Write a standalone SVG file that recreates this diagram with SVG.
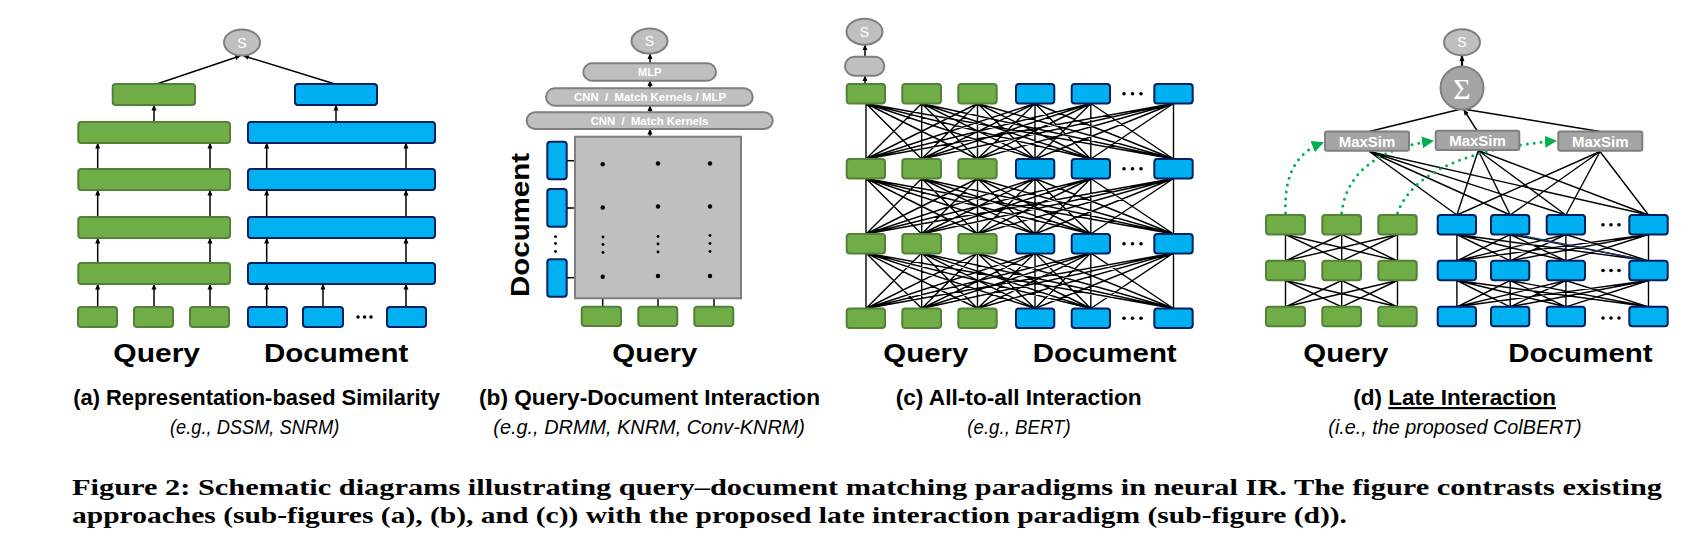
<svg xmlns="http://www.w3.org/2000/svg" width="1690" height="554" viewBox="0 0 1690 554">
<defs>
<style>
.g{fill:#70ad47;stroke:#538135;stroke-width:2}
.b{fill:#00b0f0;stroke:#002060;stroke-width:2}
.gr{fill:#bfbfbf;stroke:#7f7f7f;stroke-width:2}
.dk{fill:#a5a5a5;stroke:#7f7f7f;stroke-width:2}
.ln{stroke:#000;stroke-width:1.5;fill:none}
.ar{stroke:#000;stroke-width:1.5;fill:none;marker-end:url(#ah)}
.mesh{stroke:#000;stroke-width:1.4;fill:none}
.dot{fill:#000}
.lab{font-family:"Liberation Sans Narrow","Liberation Sans",Arial,sans-serif;font-weight:bold;font-size:26px;fill:#000}
.ttl{font-family:"Liberation Sans Narrow","Liberation Sans",Arial,sans-serif;font-weight:bold;font-size:22px;fill:#000}
.it{font-family:"Liberation Sans Narrow","Liberation Sans",Arial,sans-serif;font-style:italic;font-size:21px;fill:#000}
.wt{font-family:"Liberation Sans",Arial,sans-serif;font-weight:bold;fill:#fff}
.s{font-family:"Liberation Sans",Arial,sans-serif;font-size:14px;fill:#fff;text-anchor:middle}
.cap{font-family:"Liberation Serif","Times New Roman",serif;font-weight:bold;font-size:23px;fill:#000}
.gd{stroke:#00b050;stroke-width:3;fill:none;stroke-dasharray:0 7;stroke-linecap:round;marker-end:url(#gah)}
</style>
<marker id="ah" markerUnits="userSpaceOnUse" markerWidth="6" markerHeight="6" refX="5" refY="3" orient="auto">
<path d="M0,0.5 L6,3 L0,5.5 z" fill="#000"/>
</marker>
<marker id="gah" markerUnits="userSpaceOnUse" markerWidth="14" markerHeight="12" refX="10" refY="6" orient="auto">
<path d="M0,0 L12,6 L0,12 z" fill="#00b050"/>
</marker>
<path id="cmesh" class="mesh" d="M866 55.5L866 0M866 55.5L921.7 0M866 55.5L977.5 0M866 55.5L1035 0M866 55.5L1090.8 0M866 55.5L1173.5 0M921.7 55.5L866 0M921.7 55.5L921.7 0M921.7 55.5L977.5 0M921.7 55.5L1035 0M921.7 55.5L1090.8 0M921.7 55.5L1173.5 0M977.5 55.5L866 0M977.5 55.5L921.7 0M977.5 55.5L977.5 0M977.5 55.5L1035 0M977.5 55.5L1090.8 0M977.5 55.5L1173.5 0M1035 55.5L866 0M1035 55.5L921.7 0M1035 55.5L977.5 0M1035 55.5L1035 0M1035 55.5L1090.8 0M1035 55.5L1173.5 0M1090.8 55.5L866 0M1090.8 55.5L921.7 0M1090.8 55.5L977.5 0M1090.8 55.5L1035 0M1090.8 55.5L1090.8 0M1090.8 55.5L1173.5 0M1173.5 55.5L866 0M1173.5 55.5L921.7 0M1173.5 55.5L977.5 0M1173.5 55.5L1035 0M1173.5 55.5L1090.8 0M1173.5 55.5L1173.5 0"/>
<path id="gmesh" class="mesh" d="M1285.5 26.3L1285.5 0M1285.5 26.3L1341.7 0M1285.5 26.3L1397.5 0M1341.7 26.3L1285.5 0M1341.7 26.3L1341.7 0M1341.7 26.3L1397.5 0M1397.5 26.3L1285.5 0M1397.5 26.3L1341.7 0M1397.5 26.3L1397.5 0"/>
<path id="bmesh" class="mesh" d="M1456.9 26.3L1456.9 0M1456.9 26.3L1510.2 0M1456.9 26.3L1565.9 0M1456.9 26.3L1648.5 0M1510.2 26.3L1456.9 0M1510.2 26.3L1510.2 0M1510.2 26.3L1565.9 0M1510.2 26.3L1648.5 0M1565.9 26.3L1456.9 0M1565.9 26.3L1510.2 0M1565.9 26.3L1565.9 0M1565.9 26.3L1648.5 0M1648.5 26.3L1456.9 0M1648.5 26.3L1510.2 0M1648.5 26.3L1565.9 0M1648.5 26.3L1648.5 0"/>
</defs>
<rect width="1690" height="554" fill="#fff"/>

<!-- ===== Connectors ===== -->
<g id="connectors">
 <!-- panel a -->
 <line class="ar" x1="156.7" y1="84" x2="240" y2="56"/>
 <line class="ar" x1="335" y1="84" x2="244" y2="56"/>
 <line class="ar" x1="154" y1="122" x2="154" y2="105.5"/>
 <line class="ar" x1="336" y1="122" x2="336" y2="105.5"/>
 <line class="ar" x1="97.7" y1="169" x2="97.7" y2="143.5"/>
 <line class="ar" x1="210" y1="169" x2="210" y2="143.5"/>
 <line class="ar" x1="97.7" y1="217" x2="97.7" y2="190.5"/>
 <line class="ar" x1="210" y1="217" x2="210" y2="190.5"/>
 <line class="ar" x1="97.7" y1="263" x2="97.7" y2="238.5"/>
 <line class="ar" x1="210" y1="263" x2="210" y2="238.5"/>
 <line class="ar" x1="97.7" y1="307" x2="97.7" y2="284.5"/>
 <line class="ar" x1="154" y1="307" x2="154" y2="284.5"/>
 <line class="ar" x1="210" y1="307" x2="210" y2="284.5"/>
 <line class="ar" x1="266.7" y1="169" x2="266.7" y2="143.5"/>
 <line class="ar" x1="406" y1="169" x2="406" y2="143.5"/>
 <line class="ar" x1="266.7" y1="217" x2="266.7" y2="190.5"/>
 <line class="ar" x1="406" y1="217" x2="406" y2="190.5"/>
 <line class="ar" x1="266.7" y1="263" x2="266.7" y2="238.5"/>
 <line class="ar" x1="406" y1="263" x2="406" y2="238.5"/>
 <line class="ar" x1="266.7" y1="307" x2="266.7" y2="284.5"/>
 <line class="ar" x1="323" y1="307" x2="323" y2="284.5"/>
 <line class="ar" x1="406" y1="307" x2="406" y2="284.5"/>
 <!-- panel b -->
 <line class="ar" x1="650" y1="63.3" x2="650" y2="54"/>
 <line class="ar" x1="650" y1="88.3" x2="650" y2="81"/>
 <line class="ar" x1="650" y1="112.3" x2="650" y2="106"/>
 <line class="ar" x1="650" y1="136.7" x2="650" y2="129.5"/>
 <line class="ar" x1="567" y1="160.7" x2="583" y2="160.7"/>
 <line class="ar" x1="567" y1="208" x2="583" y2="208"/>
 <line class="ar" x1="567" y1="277.7" x2="583" y2="277.7"/>
 <line class="ar" x1="602.7" y1="306.5" x2="602.7" y2="292"/>
 <line class="ar" x1="658" y1="306.5" x2="658" y2="292"/>
 <line class="ar" x1="714" y1="306.5" x2="714" y2="292"/>
 <!-- panel c -->
 <line class="ar" x1="865" y1="56.7" x2="865" y2="45.2"/>
 <line class="ar" x1="865" y1="84" x2="865" y2="76.2"/>
 <use href="#cmesh" transform="translate(0,103.5)"/>
 <use href="#cmesh" transform="translate(0,178.5)"/>
 <use href="#cmesh" transform="translate(0,253)"/>
 <!-- panel d -->
 <use href="#gmesh" transform="translate(0,234.5)"/>
 <use href="#gmesh" transform="translate(0,280.5)"/>
 <use href="#bmesh" transform="translate(0,234.5)"/>
 <use href="#bmesh" transform="translate(0,280.5)"/>
 <line x1="1516.7" y1="234.5" x2="1646.7" y2="260.8" stroke="#1f3864" stroke-width="1.4"/>
 <path class="mesh" d="M1369.3 151.5L1456.9 215M1369.3 151.5L1510.2 215M1369.3 151.5L1565.9 215M1369.3 151.5L1648.5 215M1478.3 150.5L1456.9 215M1478.3 150.5L1510.2 215M1478.3 150.5L1565.9 215M1478.3 150.5L1648.5 215M1600 151.5L1456.9 215M1600 151.5L1510.2 215M1600 151.5L1565.9 215M1600 151.5L1648.5 215"/>
 <line class="ln" x1="1369.3" y1="131.5" x2="1459" y2="109.5"/>
 <line class="ar" x1="1477" y1="130.7" x2="1464" y2="110"/>
 <line class="ln" x1="1600" y1="131.5" x2="1466" y2="109.5"/>
 <line x1="1462" y1="66.5" x2="1462" y2="56" stroke="#000" stroke-width="2.2" marker-end="url(#ah)"/>
 <path class="gd" d="M1285.5 213 C1284 175 1296 153 1322 143"/>
 <path class="gd" d="M1341.7 213 C1346 172 1380 148 1432 141"/>
 <path class="gd" d="M1397.5 213 C1412 172 1470 148 1555 141"/>
</g>

<!-- ===== Panel (a) ===== -->
<g id="panel-a">
 <g id="a-score"><ellipse class="gr" cx="242" cy="42.5" rx="18" ry="13"/><text class="s" x="242" y="47.5">S</text></g>
 <g id="a-q-top"><rect class="g" x="112.7" y="84" width="82.3" height="21" rx="3"/></g>
 <g id="a-d-top"><rect class="b" x="295" y="84" width="82" height="21" rx="3"/></g>
 <g id="a-q-layers">
  <rect class="g" x="78.3" y="122" width="151.7" height="21" rx="3"/>
  <rect class="g" x="78.3" y="169" width="151.7" height="21" rx="3"/>
  <rect class="g" x="78.3" y="217" width="151.7" height="21" rx="3"/>
  <rect class="g" x="78.3" y="263" width="151.7" height="21" rx="3"/>
 </g>
 <g id="a-d-layers">
  <rect class="b" x="248" y="122" width="187" height="21" rx="3"/>
  <rect class="b" x="248" y="169" width="187" height="21" rx="3"/>
  <rect class="b" x="248" y="217" width="187" height="21" rx="3"/>
  <rect class="b" x="248" y="263" width="187" height="21" rx="3"/>
 </g>
 <g id="a-q-tokens">
  <rect class="g" x="78" y="307" width="39" height="20" rx="3"/>
  <rect class="g" x="134" y="307" width="39" height="20" rx="3"/>
  <rect class="g" x="190" y="307" width="39" height="20" rx="3"/>
 </g>
 <g id="a-d-tokens">
  <rect class="b" x="248" y="307" width="39" height="20" rx="3"/>
  <rect class="b" x="303" y="307" width="40" height="20" rx="3"/>
  <circle class="dot" cx="358" cy="317" r="1.8"/><circle class="dot" cx="364.5" cy="317" r="1.8"/><circle class="dot" cx="371" cy="317" r="1.8"/>
  <rect class="b" x="387" y="307" width="39" height="20" rx="3"/>
 </g>
 <text class="lab" x="113.3" y="362" textLength="86.7" lengthAdjust="spacingAndGlyphs">Query</text>
 <text class="lab" x="264" y="362" textLength="144.3" lengthAdjust="spacingAndGlyphs">Document</text>
 <text class="ttl" x="73.3" y="405" textLength="366.7" lengthAdjust="spacingAndGlyphs">(a) Representation-based Similarity</text>
 <text class="it" x="170" y="434" textLength="169.3" lengthAdjust="spacingAndGlyphs">(e.g., DSSM, SNRM)</text>
</g>

<!-- ===== Panel (b) ===== -->
<g id="panel-b">
 <g id="b-score"><ellipse class="gr" cx="649.5" cy="41" rx="18" ry="12.5"/><text class="s" x="649.5" y="46">S</text></g>
 <g id="b-mlp"><rect class="gr" x="583.3" y="63.3" width="132.7" height="17.4" rx="8.7"/><text class="wt" x="649.7" y="76" font-size="11" text-anchor="middle" textLength="23.3" lengthAdjust="spacingAndGlyphs">MLP</text></g>
 <g id="b-l2"><rect class="gr" x="546" y="88.3" width="206.7" height="17.4" rx="8.7"/><text class="wt" x="574" y="101" font-size="11" textLength="152" lengthAdjust="spacingAndGlyphs" xml:space="preserve">CNN  /  Match Kernels / MLP</text></g>
 <g id="b-l1"><rect class="gr" x="526.7" y="112.3" width="246" height="16.7" rx="8.3"/><text class="wt" x="590.7" y="124.7" font-size="11" textLength="117.6" lengthAdjust="spacingAndGlyphs" xml:space="preserve">CNN  /  Match Kernels</text></g>
 <g id="b-matrix">
  <rect class="gr" x="575" y="136.7" width="166" height="161.6"/>
  <circle class="dot" cx="602.7" cy="164.3" r="2.2"/><circle class="dot" cx="658" cy="163.5" r="2.2"/><circle class="dot" cx="710" cy="163.5" r="2.2"/>
  <circle class="dot" cx="602.7" cy="207.5" r="2.2"/><circle class="dot" cx="658" cy="206.5" r="2.2"/><circle class="dot" cx="710" cy="206.5" r="2.2"/>
  <circle class="dot" cx="602.7" cy="276.7" r="2.2"/><circle class="dot" cx="658" cy="276" r="2.2"/><circle class="dot" cx="710" cy="276" r="2.2"/>
  <circle class="dot" cx="603" cy="237" r="1.4"/><circle class="dot" cx="603" cy="244.5" r="1.4"/><circle class="dot" cx="603" cy="252.5" r="1.4"/>
  <circle class="dot" cx="658" cy="236.5" r="1.4"/><circle class="dot" cx="658" cy="244" r="1.4"/><circle class="dot" cx="658" cy="252" r="1.4"/>
  <circle class="dot" cx="710" cy="235.5" r="1.4"/><circle class="dot" cx="710" cy="243.5" r="1.4"/><circle class="dot" cx="710" cy="251.5" r="1.4"/>
 </g>
 <g id="b-doc-tokens">
  <rect class="b" x="547.3" y="141.7" width="19.4" height="37.6" rx="3"/>
  <rect class="b" x="547.3" y="189" width="19.4" height="37.7" rx="3"/>
  <circle class="dot" cx="555.5" cy="236.7" r="1.4"/><circle class="dot" cx="555.5" cy="243.5" r="1.4"/><circle class="dot" cx="555.5" cy="251.5" r="1.4"/>
  <rect class="b" x="547.3" y="259.3" width="19.4" height="37.4" rx="3"/>
 </g>
 <g id="b-q-tokens">
  <rect class="g" x="581.7" y="306.7" width="39.3" height="19.3" rx="3"/>
  <rect class="g" x="638.3" y="306.7" width="39" height="19.3" rx="3"/>
  <rect class="g" x="694.3" y="306.7" width="39" height="19.3" rx="3"/>
 </g>
 <text class="lab" transform="translate(528.5,225) rotate(-90)" x="0" y="0" font-size="33" text-anchor="middle" textLength="144" lengthAdjust="spacingAndGlyphs">Document</text>
 <text class="lab" x="612.3" y="362" textLength="85" lengthAdjust="spacingAndGlyphs">Query</text>
 <text class="ttl" x="479" y="405" textLength="341" lengthAdjust="spacingAndGlyphs">(b) Query-Document Interaction</text>
 <text class="it" x="493.3" y="434" textLength="311.7" lengthAdjust="spacingAndGlyphs">(e.g., DRMM, KNRM, Conv-KNRM)</text>
</g>

<!-- ===== Panel (c) ===== -->
<g id="panel-c">
 <g id="c-score"><ellipse class="gr" cx="864.5" cy="31.7" rx="18" ry="13"/><text class="s" x="864.5" y="36.7">S</text></g>
 <g id="c-head"><rect class="gr" x="845" y="56.7" width="39.3" height="19" rx="9.5"/></g>
 <g id="c-rows">
  <g id="c-r1">
   <rect class="g" x="846.7" y="84" width="38.3" height="19.5" rx="3"/><rect class="g" x="902.3" y="84" width="38.7" height="19.5" rx="3"/><rect class="g" x="958.3" y="84" width="38.4" height="19.5" rx="3"/>
   <rect class="b" x="1016" y="84" width="38.3" height="19.5" rx="3"/><rect class="b" x="1071.7" y="84" width="38.3" height="19.5" rx="3"/><rect class="b" x="1154.3" y="84" width="38.4" height="19.5" rx="3"/>
   <circle class="dot" cx="1124" cy="93.7" r="1.8"/><circle class="dot" cx="1132.5" cy="93.7" r="1.8"/><circle class="dot" cx="1141" cy="93.7" r="1.8"/>
  </g>
  <g id="c-r2">
   <rect class="g" x="846.7" y="159" width="38.3" height="19.5" rx="3"/><rect class="g" x="902.3" y="159" width="38.7" height="19.5" rx="3"/><rect class="g" x="958.3" y="159" width="38.4" height="19.5" rx="3"/>
   <rect class="b" x="1016" y="159" width="38.3" height="19.5" rx="3"/><rect class="b" x="1071.7" y="159" width="38.3" height="19.5" rx="3"/><rect class="b" x="1154.3" y="159" width="38.4" height="19.5" rx="3"/>
   <circle class="dot" cx="1124" cy="168.7" r="1.8"/><circle class="dot" cx="1132.5" cy="168.7" r="1.8"/><circle class="dot" cx="1141" cy="168.7" r="1.8"/>
  </g>
  <g id="c-r3">
   <rect class="g" x="846.7" y="234" width="38.3" height="19.5" rx="3"/><rect class="g" x="902.3" y="234" width="38.7" height="19.5" rx="3"/><rect class="g" x="958.3" y="234" width="38.4" height="19.5" rx="3"/>
   <rect class="b" x="1016" y="234" width="38.3" height="19.5" rx="3"/><rect class="b" x="1071.7" y="234" width="38.3" height="19.5" rx="3"/><rect class="b" x="1154.3" y="234" width="38.4" height="19.5" rx="3"/>
   <circle class="dot" cx="1124" cy="243.7" r="1.8"/><circle class="dot" cx="1132.5" cy="243.7" r="1.8"/><circle class="dot" cx="1141" cy="243.7" r="1.8"/>
  </g>
  <g id="c-r4">
   <rect class="g" x="846.7" y="308.5" width="38.3" height="19.5" rx="3"/><rect class="g" x="902.3" y="308.5" width="38.7" height="19.5" rx="3"/><rect class="g" x="958.3" y="308.5" width="38.4" height="19.5" rx="3"/>
   <rect class="b" x="1016" y="308.5" width="38.3" height="19.5" rx="3"/><rect class="b" x="1071.7" y="308.5" width="38.3" height="19.5" rx="3"/><rect class="b" x="1154.3" y="308.5" width="38.4" height="19.5" rx="3"/>
   <circle class="dot" cx="1124" cy="318.2" r="1.8"/><circle class="dot" cx="1132.5" cy="318.2" r="1.8"/><circle class="dot" cx="1141" cy="318.2" r="1.8"/>
  </g>
 </g>
 <text class="lab" x="883.3" y="362" textLength="85" lengthAdjust="spacingAndGlyphs">Query</text>
 <text class="lab" x="1032.7" y="362" textLength="144" lengthAdjust="spacingAndGlyphs">Document</text>
 <text class="ttl" x="895.7" y="405" textLength="246" lengthAdjust="spacingAndGlyphs">(c) All-to-all Interaction</text>
 <text class="it" x="967.3" y="434" textLength="103.4" lengthAdjust="spacingAndGlyphs">(e.g., BERT)</text>
</g>

<!-- ===== Panel (d) ===== -->
<g id="panel-d">
 <g id="d-score"><ellipse class="gr" cx="1462" cy="42.3" rx="18" ry="13"/><text class="s" x="1462" y="47.3">S</text></g>
 <g id="d-sum"><circle class="dk" cx="1462" cy="88" r="21.5" stroke-width="2.5"/><text x="1462" y="98.5" font-family="Liberation Serif,serif" font-size="30" fill="#fff" text-anchor="middle">Σ</text></g>
 <g id="d-maxsim1"><rect class="dk" x="1325" y="131.5" width="84" height="19.2" rx="2"/><text class="wt" x="1367" y="146.5" font-size="15" text-anchor="middle">MaxSim</text></g>
 <g id="d-maxsim2"><rect class="dk" x="1435.7" y="130.7" width="83.6" height="19.3" rx="2"/><text class="wt" x="1477.5" y="145.5" font-size="15" text-anchor="middle">MaxSim</text></g>
 <g id="d-maxsim3"><rect class="dk" x="1558.3" y="131.5" width="84" height="19.2" rx="2"/><text class="wt" x="1600.3" y="146.5" font-size="15" text-anchor="middle">MaxSim</text></g>
 <g id="d-query">
  <rect class="g" x="1266" y="215" width="39" height="19.5" rx="3"/><rect class="g" x="1322.3" y="215" width="38.7" height="19.5" rx="3"/><rect class="g" x="1378.3" y="215" width="38.4" height="19.5" rx="3"/>
  <rect class="g" x="1266" y="260.8" width="39" height="19.5" rx="3"/><rect class="g" x="1322.3" y="260.8" width="38.7" height="19.5" rx="3"/><rect class="g" x="1378.3" y="260.8" width="38.4" height="19.5" rx="3"/>
  <rect class="g" x="1266" y="306.8" width="39" height="19.5" rx="3"/><rect class="g" x="1322.3" y="306.8" width="38.7" height="19.5" rx="3"/><rect class="g" x="1378.3" y="306.8" width="38.4" height="19.5" rx="3"/>
 </g>
 <g id="d-doc">
  <rect class="b" x="1437.7" y="215" width="38.3" height="19.5" rx="3"/><rect class="b" x="1491" y="215" width="38.3" height="19.5" rx="3"/><rect class="b" x="1546.7" y="215" width="38.3" height="19.5" rx="3"/><rect class="b" x="1629.3" y="215" width="38.4" height="19.5" rx="3"/>
  <rect class="b" x="1437.7" y="260.8" width="38.3" height="19.5" rx="3"/><rect class="b" x="1491" y="260.8" width="38.3" height="19.5" rx="3"/><rect class="b" x="1546.7" y="260.8" width="38.3" height="19.5" rx="3"/><rect class="b" x="1629.3" y="260.8" width="38.4" height="19.5" rx="3"/>
  <rect class="b" x="1437.7" y="306.8" width="38.3" height="19.5" rx="3"/><rect class="b" x="1491" y="306.8" width="38.3" height="19.5" rx="3"/><rect class="b" x="1546.7" y="306.8" width="38.3" height="19.5" rx="3"/><rect class="b" x="1629.3" y="306.8" width="38.4" height="19.5" rx="3"/>
  <circle class="dot" cx="1603" cy="224.7" r="1.8"/><circle class="dot" cx="1611" cy="224.7" r="1.8"/><circle class="dot" cx="1619" cy="224.7" r="1.8"/>
  <circle class="dot" cx="1603" cy="270.5" r="1.8"/><circle class="dot" cx="1611" cy="270.5" r="1.8"/><circle class="dot" cx="1619" cy="270.5" r="1.8"/>
  <circle class="dot" cx="1603" cy="318" r="1.8"/><circle class="dot" cx="1611" cy="318" r="1.8"/><circle class="dot" cx="1619" cy="318" r="1.8"/>
 </g>
 <text class="lab" x="1303.3" y="362" textLength="85" lengthAdjust="spacingAndGlyphs">Query</text>
 <text class="lab" x="1508.3" y="362" textLength="144.4" lengthAdjust="spacingAndGlyphs">Document</text>
 <text class="ttl" x="1353.3" y="405" textLength="202.7" lengthAdjust="spacingAndGlyphs">(d) <tspan text-decoration="underline">Late Interaction</tspan></text>
 <text class="it" x="1328.3" y="434" textLength="253.4" lengthAdjust="spacingAndGlyphs">(i.e., the proposed ColBERT)</text>
</g>

<!-- ===== Caption ===== -->
<g id="caption">
 <text class="cap" x="72" y="495" textLength="1590" lengthAdjust="spacingAndGlyphs">Figure 2: Schematic diagrams illustrating query–document matching paradigms in neural IR. The figure contrasts existing</text>
 <text class="cap" x="72" y="523" textLength="1275" lengthAdjust="spacingAndGlyphs">approaches (sub-figures (a), (b), and (c)) with the proposed late interaction paradigm (sub-figure (d)).</text>
</g>
</svg>
